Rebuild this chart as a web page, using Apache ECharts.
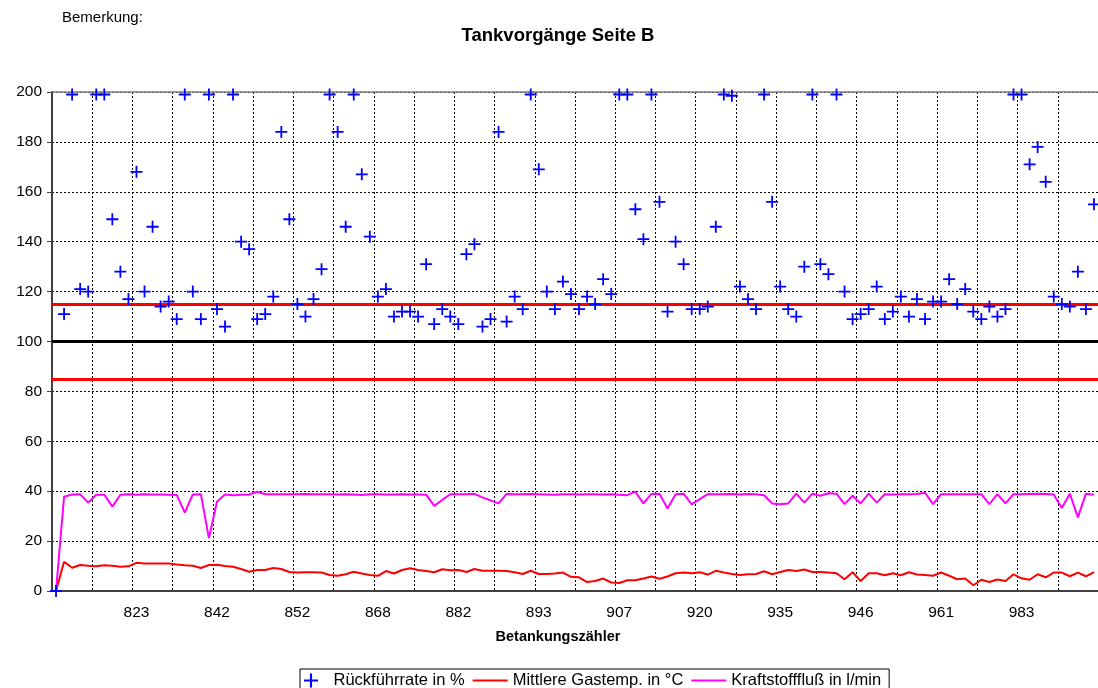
<!DOCTYPE html>
<html>
<head>
<meta charset="utf-8">
<title>Tankvorgänge Seite B</title>
<script src="https://cdn.jsdelivr.net/npm/echarts@6/dist/echarts.min.js"></script>
<style>
  html, body { margin: 0; padding: 0; background: #fff; }
  #chart { width: 1098px; height: 688px; }
</style>
</head>
<body>
<div id="chart"></div>
<script>
// Betankungszähler: nur jede 10. Kategorie ist beschriftet
const tickLabels = ['', '823', '842', '852', '868', '882', '893', '907', '920', '935', '946', '961', '983'];

// Rückführrate in %
const ruckfuehrrate = [
  0, 111, 199, 121, 120, 199, 199, 149, 128, 117,
  168, 120, 146, 114, 116, 109, 199, 120, 109, 199,
  113, 106, 199, 140, 137, 109, 111, 118, 184, 149,
  115, 110, 117, 129, 199, 184, 146, 199, 167, 142,
  118, 121, 110, 112, 112, 110, 131, 107, 113, 110,
  107, 135, 139, 106, 109, 184, 108, 118, 113, 199,
  169, 120, 113, 124, 119, 113, 118, 115, 125, 119,
  199, 199, 153, 141, 199, 156, 112, 140, 131, 113,
  113, 114, 146, 199, 198.5, 122, 117, 113, 199, 156,
  122, 113, 110, 130, 199, 131, 127, 199, 120, 109,
  111, 113, 122, 109, 112, 118, 110, 117, 109, 116,
  116, 125, 115, 121, 112, 109, 114, 110, 113, 199,
  199, 171, 178, 164, 118, 115, 114, 128, 113, 155
];

// Mittlere Gastemp. in °C
const gastemp = [
  0, 11.7, 9.3, 10.4, 10.1, 9.9, 10.3, 10.1, 9.7, 9.9,
  11.3, 11.0, 11.0, 11.0, 11.0, 10.6, 10.3, 10.1, 9.2, 10.4,
  10.5, 10.0, 9.7, 8.8, 7.7, 8.4, 8.4, 9.2, 8.8, 7.6,
  7.4, 7.5, 7.5, 7.4, 6.4, 6.1, 6.7, 7.7, 7.0, 6.4,
  6.1, 8.0, 7.0, 8.4, 9.1, 8.4, 8.0, 7.5, 8.7, 8.3,
  8.4, 7.6, 8.8, 8.1, 8.1, 8.1, 8.0, 7.5, 6.8, 8.1,
  6.8, 6.8, 7.0, 7.4, 5.7, 5.5, 3.6, 4.0, 5.0, 3.4,
  3.2, 4.3, 4.3, 5.0, 5.8, 4.9, 5.8, 7.1, 7.4, 7.1,
  7.5, 6.6, 8.1, 7.4, 6.8, 6.4, 6.7, 6.8, 7.9, 6.7,
  7.6, 8.4, 8.0, 8.6, 7.6, 7.6, 7.4, 7.1, 4.7, 7.5,
  4.0, 7.1, 7.1, 6.3, 7.1, 6.3, 7.5, 6.6, 6.4, 6.1,
  7.4, 6.1, 4.7, 5.0, 2.3, 4.5, 3.6, 4.6, 4.0, 6.7,
  5.1, 4.5, 6.7, 5.5, 7.4, 7.4, 5.9, 7.4, 5.9, 7.6
];

// Kraftstofffluß in l/min
const kraftstofffluss = [
  0, 37.8, 38.7, 38.8, 35.4, 38.6, 38.6, 33.8, 38.6, 38.8,
  38.6, 38.8, 38.7, 38.7, 38.6, 38.5, 31.4, 38.7, 38.8, 21.2,
  35.8, 38.7, 38.4, 38.6, 38.7, 39.8, 38.8, 38.8, 38.8, 38.8,
  38.8, 38.9, 38.8, 38.8, 38.8, 38.7, 38.8, 38.7, 38.5, 38.8,
  38.8, 38.7, 38.7, 38.8, 38.7, 38.7, 38.6, 34.1, 36.5, 38.8,
  38.8, 38.8, 38.9, 37.5, 36.3, 35.1, 38.9, 38.8, 38.8, 38.9,
  38.8, 38.7, 38.6, 38.8, 38.8, 38.7, 38.8, 38.8, 38.7, 38.8,
  38.6, 38.4, 39.8, 35.1, 38.9, 39.0, 33.1, 38.8, 39.0, 34.7,
  36.8, 38.8, 38.8, 38.8, 38.9, 38.7, 38.9, 38.8, 38.4, 35.1,
  34.8, 35.1, 39.0, 35.4, 39.0, 38.2, 39.2, 39.0, 34.8, 38.2,
  35.1, 39.0, 35.4, 38.8, 38.7, 38.8, 38.8, 38.9, 39.4, 34.8,
  38.8, 38.8, 38.8, 38.8, 38.8, 38.8, 34.8, 38.8, 35.1, 38.8,
  38.8, 38.9, 39.0, 38.9, 38.7, 33.3, 39.0, 29.5, 39.0, 38.6
];

// Grenzlinien
const limitUpper = 115;
const limitTarget = 100;
const limitLower = 85;

const yTicks = { min: 0, max: 200, interval: 20 };

const categories = ruckfuehrrate.map((_, i) => String(i));
const font = "'Liberation Sans', Arial, sans-serif";
const crossPath = 'path://M5.1,0H6.9V5.1H12V6.9H6.9V12H5.1V6.9H0V5.1H5.1Z';
const linePath = 'path://M0,0H35V2H0Z';

const chart = echarts.init(document.getElementById('chart'));

chart.setOption({
  animation: false,
  textStyle: { fontFamily: font, color: '#000' },
  graphic: [
    {
      type: 'text', x: 62, y: 18,
      style: { text: 'Bemerkung:', font: '15px ' + font, fill: '#000', textVerticalAlign: 'middle' }
    },
    {
      type: 'text', x: 558, y: 36,
      style: { text: 'Tankvorgänge Seite B', font: 'bold 18.5px ' + font, fill: '#000', textAlign: 'center', textVerticalAlign: 'middle' }
    },
    {
      type: 'text', x: 558, y: 637,
      style: { text: 'Betankungszähler', font: 'bold 14.5px ' + font, fill: '#000', textAlign: 'center', textVerticalAlign: 'middle' }
    }
  ],
  grid: {
    left: 52,
    top: 92,
    width: 1048,
    height: 499
  },
  legend: {
    left: 300,
    top: 669,
    padding: [3, 8, 3, 4],
    borderColor: '#000',
    borderWidth: 1,
    itemGap: 8,
    itemWidth: 35,
    itemHeight: 14,
    textStyle: { fontSize: 16.5, fontFamily: font, color: '#000' },
    data: [
      { name: 'Rückführrate in %', icon: crossPath },
      { name: 'Mittlere Gastemp. in °C', icon: linePath },
      { name: 'Kraftstofffluß in l/min', icon: linePath }
    ]
  },
  xAxis: {
    type: 'category',
    data: categories,
    boundaryGap: true,
    axisLine: { lineStyle: { color: '#404040', width: 2 } },
    axisTick: { interval: 9, length: 5, lineStyle: { color: '#404040', width: 1 } },
    axisLabel: {
      interval: 9,
      margin: 14,
      fontSize: 15.5,
      color: '#000',
      fontFamily: font,
      formatter: (v, i) => tickLabels[i / 10] || ''
    },
    splitLine: {
      show: true,
      interval: 4,
      lineStyle: { color: '#000', width: 1, type: [2, 2] }
    }
  },
  yAxis: {
    type: 'value',
    min: yTicks.min,
    max: yTicks.max,
    interval: yTicks.interval,
    axisLine: { show: true, lineStyle: { color: '#404040', width: 2 } },
    axisTick: { show: true, length: 5, lineStyle: { color: '#404040', width: 1 } },
    axisLabel: { margin: 10, fontSize: 15.5, color: '#000', fontFamily: font },
    splitLine: { lineStyle: { color: '#000', width: 1, type: [2, 2] } }
  },
  series: [
    {
      name: 'Mittlere Gastemp. in °C',
      type: 'line',
      data: gastemp,
      symbol: 'none',
      lineStyle: { color: '#FF0000', width: 2 },
      itemStyle: { color: '#FF0000' },
      z: 2,
      markLine: {
        silent: true,
        symbol: 'none',
        z: 3,
        label: { show: false },
        data: [
          { yAxis: limitUpper, lineStyle: { color: '#FF0000', width: 3, type: 'solid' } },
          { yAxis: limitTarget, lineStyle: { color: '#000000', width: 3, type: 'solid' } },
          { yAxis: limitLower, lineStyle: { color: '#FF0000', width: 3, type: 'solid' } },
          { yAxis: yTicks.max, lineStyle: { color: '#808080', width: 1.5, type: 'solid' } }
        ]
      }
    },
    {
      name: 'Kraftstofffluß in l/min',
      type: 'line',
      data: kraftstofffluss,
      symbol: 'none',
      lineStyle: { color: '#FF00FF', width: 2 },
      itemStyle: { color: '#FF00FF' },
      z: 2
    },
    {
      name: 'Rückführrate in %',
      type: 'scatter',
      data: ruckfuehrrate,
      symbol: crossPath,
      symbolSize: 12,
      itemStyle: { color: '#0000FF', opacity: 1 },
      z: 5
    }
  ]
});
</script>
</body>
</html>
